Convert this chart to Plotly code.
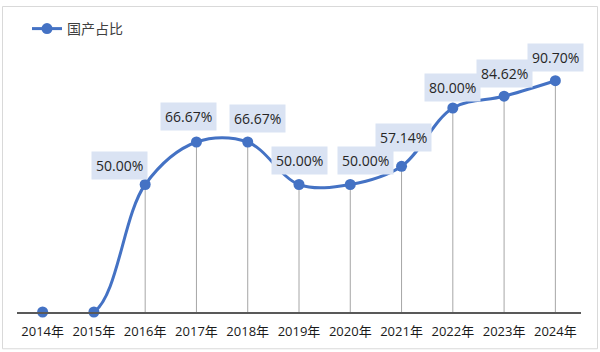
import plotly.graph_objects as go

# ---- data ----
years = ["2014年", "2015年", "2016年", "2017年", "2018年", "2019年",
         "2020年", "2021年", "2022年", "2023年", "2024年"]
share = [0, 0, 50.00, 66.67, 66.67, 50.00, 50.00, 57.14, 80.00, 84.62, 90.70]
series_name = "国产占比"

# ---- style ----
BLUE = "#4472c4"
W, H = 600, 352
ML, MR, MT, MB = 17, 19, 52, 40
FONT = "Open Sans, Noto Sans CJK SC, sans-serif"

fig = go.Figure()

# vertical drop lines from each point to the axis
dx, dy = [], []
for yr, v in zip(years, share):
    if v > 0:
        dx += [yr, yr, None]
        dy += [0, v, None]
fig.add_trace(go.Scatter(x=dx, y=dy, mode="lines", showlegend=False,
                         line=dict(color="#a6a6a6", width=1), hoverinfo="skip"))

fig.add_trace(go.Scatter(
    x=years, y=share, mode="lines+markers", name=series_name,
    line=dict(color=BLUE, width=3, shape="spline", smoothing=1),
    marker=dict(color=BLUE, size=11),
    cliponaxis=False,
))

# data labels (pixel offsets from each point, like Excel's moved labels)
offsets = {2: (-26, 19), 3: (-8, 25), 4: (10, 23), 5: (0, 24), 6: (15, 24),
           7: (2, 29), 8: (0, 21), 9: (0, 23), 10: (0, 23)}
for i, (yr, v) in enumerate(zip(years, share)):
    if i in offsets:
        ox, oy = offsets[i]
        fig.add_annotation(x=yr, y=v, text=f"{v:.2f}%", showarrow=False,
                           xshift=ox, yshift=oy, bgcolor="#dae3f3", borderpad=4,
                           font=dict(family=FONT, size=14, color="#262626"))

# chart border
pw, ph = W - ML - MR, H - MT - MB
fig.add_shape(type="rect", xref="paper", yref="paper",
              x0=(2.5 - ML) / pw, x1=(597.5 - ML) / pw,
              y0=(H - MB - 349.5) / ph, y1=(H - MB - 0.5) / ph,
              line=dict(color="#d9d9d9", width=1), layer="below")

fig.update_layout(
    width=W, height=H, margin=dict(l=ML, r=MR, t=MT, b=MB),
    paper_bgcolor="white", plot_bgcolor="white",
    font=dict(family=FONT, color="#262626"),
    showlegend=True,
    legend=dict(xref="container", yref="container", x=0.045, y=1 - 29 / H,
                xanchor="left", yanchor="middle", orientation="h",
                font=dict(size=14, color="#404040"), bgcolor="rgba(0,0,0,0)"),
    xaxis=dict(type="category", categoryorder="array", categoryarray=years,
               range=[-0.5, len(years) - 0.5], showgrid=False,
               showline=True, linecolor="#595959", linewidth=1.5,
               ticks="outside", ticklen=7, tickcolor="rgba(0,0,0,0)",
               tickfont=dict(size=13, color="#1a1a1a"), zeroline=False),
    yaxis=dict(range=[0, 100], visible=False, showgrid=False, zeroline=False),
)

fig.write_html("out.html")
